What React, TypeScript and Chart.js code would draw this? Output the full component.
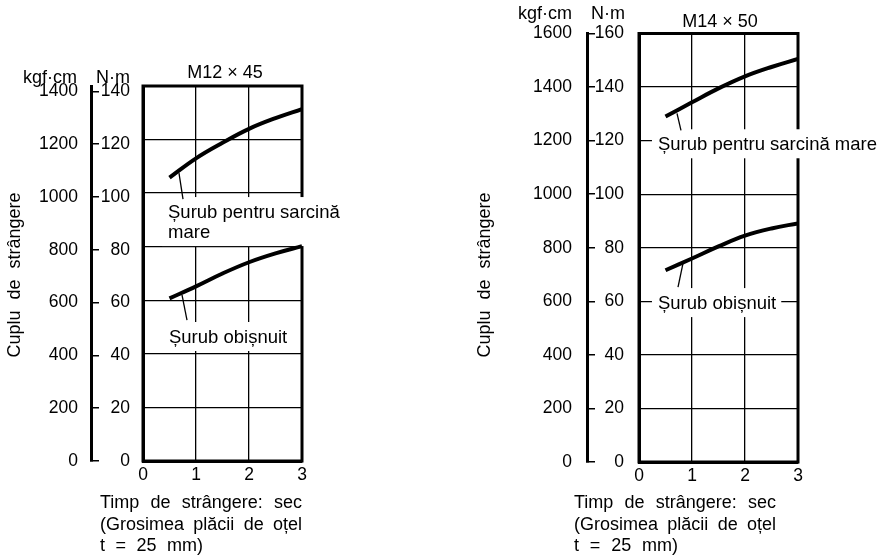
import React, { useEffect, useRef } from "react";
import { Chart, registerables } from "chart.js";

Chart.register(...registerables);

// ---------- data ----------
const timeSec = [0.5, 1, 1.5, 2, 2.5, 3];
const xTicks = [0, 1, 2, 3];

const m12Heavy = [105.8, 113, 118.8, 124, 128, 131.4];
const m12Normal = [60.7, 65.2, 70, 74.2, 77.5, 80.2];
const m14Heavy = [129, 134.3, 139.5, 144, 147.5, 150.5];
const m14Normal = [71.6, 76, 80.5, 84.5, 87.2, 89.1];

const m12NmTicks = [0, 20, 40, 60, 80, 100, 120, 140];
const m12KgfTicks = [0, 200, 400, 600, 800, 1000, 1200, 1400];
const m14NmTicks = [0, 20, 40, 60, 80, 100, 120, 140, 160];
const m14KgfTicks = [0, 200, 400, 600, 800, 1000, 1200, 1400, 1600];

const m12Title = "M12 × 45";
const m14Title = "M14 × 50";
const unitKgf = "kgf·cm";
const unitNm = "N·m";
const yTitleText = "Cuplu de strângere";
const xTitleLines = ["Timp de strângere: sec", "(Grosimea plăcii de oțel", "t = 25 mm)"];
const heavyLines12 = ["Șurub pentru sarcină", "mare"];
const heavyLines14 = ["Șurub pentru sarcină mare"];
const normalLines = ["Șurub obișnuit"];

// ---------- styling / layout ----------
const FONT = "'Liberation Sans', Arial, Helvetica, sans-serif";
const TICK_SIZE = 17.5;
const TEXT_SIZE = 18;
const LABEL_SIZE = 18.5;
const LINE_H = 20;
const W = 445;
const H = 556;

Chart.defaults.color = "#000";
Chart.defaults.font.family = FONT;

const panels = [
  {
    key: "m12",
    title: m12Title,
    heavy: m12Heavy,
    normal: m12Normal,
    nmMax: 140,
    nmLabelMax: 142,
    kgfLabelMax: 1420,
    nmTicks: m12NmTicks,
    kgfTicks: m12KgfTicks,
    area: { left: 143, right: 302, top: 86, bottom: 461 },
    axisX: 91,
    kgfPad: 21,
    nmPad: 13,
    header: { kgfRight: 77, nmRight: 130, unitBase: 83, titleX: 225, titleBase: 78 },
    yTitle: { x: 20, y: 275 },
    xTitle: { x: 100, base: 508, width: 202, lastWidth: 103 },
    labels: [
      { lines: heavyLines12, x: 0.472, y: 90.7, leader: [[0.679, 107.5], [0.755, 97.8]] },
      { lines: normalLines, x: 0.49, y: 44.05, leader: [[0.736, 62.0], [0.83, 52.6]] },
    ],
    offset: 0,
  },
  {
    key: "m14",
    title: m14Title,
    heavy: m14Heavy,
    normal: m14Normal,
    nmMax: 160,
    nmLabelMax: 160,
    kgfLabelMax: 1600,
    nmTicks: m14NmTicks,
    kgfTicks: m14KgfTicks,
    area: { left: 194, right: 353, top: 33, bottom: 462 },
    axisX: 142,
    kgfPad: 23,
    nmPad: 15,
    header: { kgfRight: 127, nmRight: 180, unitBase: 19, titleX: 275, titleBase: 27 },
    yTitle: { x: 45, y: 275 },
    xTitle: { x: 129, base: 508, width: 202, lastWidth: 104 },
    labels: [
      { lines: heavyLines14, x: 0.358, y: 116.4, leader: [[0.717, 130.2], [0.792, 123.8]] },
      { lines: normalLines, x: 0.358, y: 57.1, leader: [[0.83, 74.2], [0.736, 65.3]] },
    ],
    offset: 445,
  },
];

function drawJustified(ctx: CanvasRenderingContext2D, text: string, x: number, y: number, width: number) {
  const words = text.split(" ");
  const widths = words.map((w) => ctx.measureText(w).width);
  const sum = widths.reduce((a, b) => a + b, 0);
  const gap = words.length > 1 ? (width - sum) / (words.length - 1) : 0;
  let cx = x;
  words.forEach((w, i) => {
    ctx.fillText(w, cx, y);
    cx += widths[i] + gap;
  });
}

function makePlugin(p: any) {
  return {
    id: "decor-" + p.key,
    beforeDatasetsDraw(chart: any) {
      const { ctx, chartArea: a, scales } = chart;
      const xs = scales.x;
      const ys = scales.y;
      ctx.save();
      ctx.strokeStyle = "#000";
      ctx.lineWidth = 3;
      ctx.strokeRect(a.left, a.top, a.right - a.left, a.bottom - a.top);
      ctx.font = `${LABEL_SIZE}px ${FONT}`;
      for (const lab of p.labels) {
        const x = xs.getPixelForValue(lab.x);
        const y = ys.getPixelForValue(lab.y);
        const w = Math.max(...lab.lines.map((l: string) => ctx.measureText(l).width));
        const top = y - 21;
        const bottom = y + (lab.lines.length - 1) * LINE_H + 8;
        ctx.fillStyle = "#fff";
        ctx.fillRect(x - 6, top, w + 11, bottom - top);
      }
      ctx.restore();
    },
    afterDraw(chart: any) {
      const { ctx, scales } = chart;
      const xs = scales.x;
      const ys = scales.y;
      ctx.save();
      ctx.fillStyle = "#000";
      ctx.strokeStyle = "#000";
      ctx.textBaseline = "alphabetic";
      // curve labels and leaders
      ctx.font = `${LABEL_SIZE}px ${FONT}`;
      ctx.textAlign = "left";
      for (const lab of p.labels) {
        const x = xs.getPixelForValue(lab.x);
        const y = ys.getPixelForValue(lab.y);
        lab.lines.forEach((l: string, i: number) => ctx.fillText(l, x, y + i * LINE_H));
        ctx.lineWidth = 1.3;
        ctx.beginPath();
        ctx.moveTo(xs.getPixelForValue(lab.leader[0][0]), ys.getPixelForValue(lab.leader[0][1]));
        ctx.lineTo(xs.getPixelForValue(lab.leader[1][0]), ys.getPixelForValue(lab.leader[1][1]));
        ctx.stroke();
      }
      // headers
      ctx.font = `${TEXT_SIZE}px ${FONT}`;
      ctx.textAlign = "right";
      ctx.fillText(unitKgf, p.header.kgfRight, p.header.unitBase);
      ctx.fillText(unitNm, p.header.nmRight, p.header.unitBase);
      ctx.textAlign = "center";
      ctx.fillText(p.title, p.header.titleX, p.header.titleBase);
      // x title
      ctx.textAlign = "left";
      drawJustified(ctx, xTitleLines[0], p.xTitle.x, p.xTitle.base, p.xTitle.width);
      drawJustified(ctx, xTitleLines[1], p.xTitle.x, p.xTitle.base + 21.5, p.xTitle.width);
      drawJustified(ctx, xTitleLines[2], p.xTitle.x, p.xTitle.base + 43, p.xTitle.lastWidth);
      // y title
      ctx.translate(p.yTitle.x, p.yTitle.y);
      ctx.rotate(-Math.PI / 2);
      drawJustified(ctx, yTitleText, -82.5, 0, 165);
      ctx.restore();
    },
  };
}

function makeConfig(p: any): any {
  const tickFont = { family: FONT, size: TICK_SIZE };
  const lineStyle = {
    borderColor: "#000",
    borderWidth: 4,
    pointRadius: 0,
    fill: false,
    tension: 0.4,
    borderCapStyle: "butt",
  };
  return {
    type: "line",
    data: {
      datasets: [
        { label: "heavy", data: timeSec.map((t, i) => ({ x: t, y: p.heavy[i] })), ...lineStyle },
        { label: "normal", data: timeSec.map((t, i) => ({ x: t, y: p.normal[i] })), ...lineStyle },
      ],
    },
    options: {
      responsive: false,
      animation: false,
      events: [],
      layout: { padding: { left: 0, top: p.area.top, right: W - p.area.right, bottom: 0 } },
      plugins: { legend: { display: false }, tooltip: { enabled: false }, title: { display: false } },
      scales: {
        x: {
          type: "linear",
          position: "bottom",
          min: 0,
          max: 3,
          afterBuildTicks: (s: any) => {
            s.ticks = xTicks.map((v) => ({ value: v }));
          },
          afterFit: (s: any) => {
            s.height = H - p.area.bottom;
          },
          grid: { color: "#000", lineWidth: 1.3, drawTicks: false },
          border: { display: true, color: "#000", width: 3 },
          ticks: { font: tickFont, color: "#000", padding: 4, maxRotation: 0, autoSkip: false, callback: (v: any) => String(v) },
        },
        y: {
          type: "linear",
          position: "left",
          weight: 0,
          min: 0,
          max: p.nmMax,
          afterBuildTicks: (s: any) => {
            s.ticks = p.nmTicks.map((v: number) => ({ value: v }));
          },
          afterFit: (s: any) => {
            s.width = 0;
          },
          grid: { color: "#000", lineWidth: 1.3, drawTicks: false },
          border: { display: true, color: "#000", width: 3 },
          ticks: { display: false },
        },
        yn: {
          type: "linear",
          position: "left",
          weight: 1,
          min: 0,
          max: p.nmLabelMax,
          afterBuildTicks: (s: any) => {
            s.ticks = p.nmTicks.map((v: number) => ({ value: v }));
          },
          afterFit: (s: any) => {
            s.width = p.area.left - p.axisX;
          },
          grid: { display: false, drawTicks: false, tickLength: 0 },
          border: { display: false },
          ticks: { font: tickFont, color: "#000", padding: p.nmPad, autoSkip: false, callback: (v: any) => String(v) },
        },
        yk: {
          type: "linear",
          position: "left",
          weight: 2,
          min: 0,
          max: p.kgfLabelMax,
          afterBuildTicks: (s: any) => {
            s.ticks = p.kgfTicks.map((v: number) => ({ value: v }));
          },
          afterFit: (s: any) => {
            s.width = p.axisX;
          },
          grid: {
            drawOnChartArea: false,
            drawTicks: true,
            tickLength: -8,
            tickWidth: 1.5,
            tickColor: "#000",
            color: "#000",
            lineWidth: 1.5,
          },
          border: { display: true, color: "#000", width: 3 },
          ticks: { font: tickFont, color: "#000", padding: p.kgfPad, autoSkip: false, callback: (v: any) => String(v) },
        },
      },
    },
    plugins: [makePlugin(p)],
  };
}

function Panel({ p }: { p: any }) {
  const ref = useRef<HTMLCanvasElement | null>(null);
  useEffect(() => {
    if (!ref.current) return;
    const chart = new Chart(ref.current, makeConfig(p));
    return () => chart.destroy();
  }, [p]);
  return (
    <canvas
      ref={ref}
      width={W}
      height={H}
      style={{ position: "absolute", left: p.offset, top: 0, width: W, height: H }}
    />
  );
}

export default function App() {
  return (
    <div style={{ position: "fixed", left: 0, top: 0, width: 890, height: 556, background: "#fff" }}>
      {panels.map((p) => (
        <Panel key={p.key} p={p} />
      ))}
    </div>
  );
}
